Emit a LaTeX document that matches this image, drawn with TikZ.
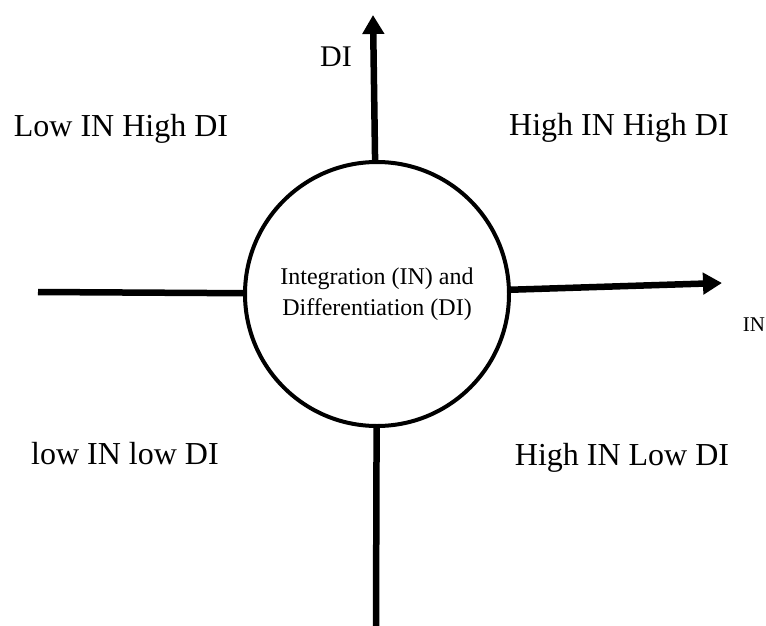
\documentclass[tikz,border=0pt]{standalone}
\usepackage{fontspec}
\setmainfont{Liberation Serif}
\usetikzlibrary{arrows.meta,positioning}

\begin{document}
\begin{tikzpicture}[x=1pt, y=-1pt,
hub/.style={circle, draw, line width=4pt, minimum size=264pt, inner sep=0pt, align=center, font=\fontsize{24}{31}\selectfont},
quad/.style={inner sep=0pt, font=\fontsize{32}{38}\selectfont},
axis/.style={line width=6.5pt},
axisarrow/.style={line width=6.5pt, -{Triangle[length=19pt,width=21pt]}}
]
\useasboundingbox (0,0) rectangle (766,626);
\node[hub] (hub) at (377,294) {Integration (IN) and\\Differentiation (DI)};
\coordinate (ditip) at (373,15);
\coordinate (intip) at (722,283);
\coordinate (inleft) at (38,292);
\coordinate (dibottom) at (376,626);
\node[inner sep=0pt, font=\fontsize{30}{36}\selectfont] (dilabel) at (336,57) {DI};
\node[inner sep=0pt, font=\fontsize{21}{25}\selectfont] (inlabel) at (754,325) {IN};
\node[quad] (lowhigh) at (121,129) {Low IN High DI};
\node[quad] (highhigh) at (619,128) {High IN High DI};
\node[quad] (lowlow) at (125,454) {low IN low DI};
\node[quad] (highlow) at (622,458) {High IN Low DI};
\draw[axisarrow] (hub) -- (ditip);
\draw[axisarrow] (hub) -- (intip);
\draw[axis] (inleft) -- (hub);
\draw[axis] (hub) -- (dibottom);
\end{tikzpicture}
\end{document}
